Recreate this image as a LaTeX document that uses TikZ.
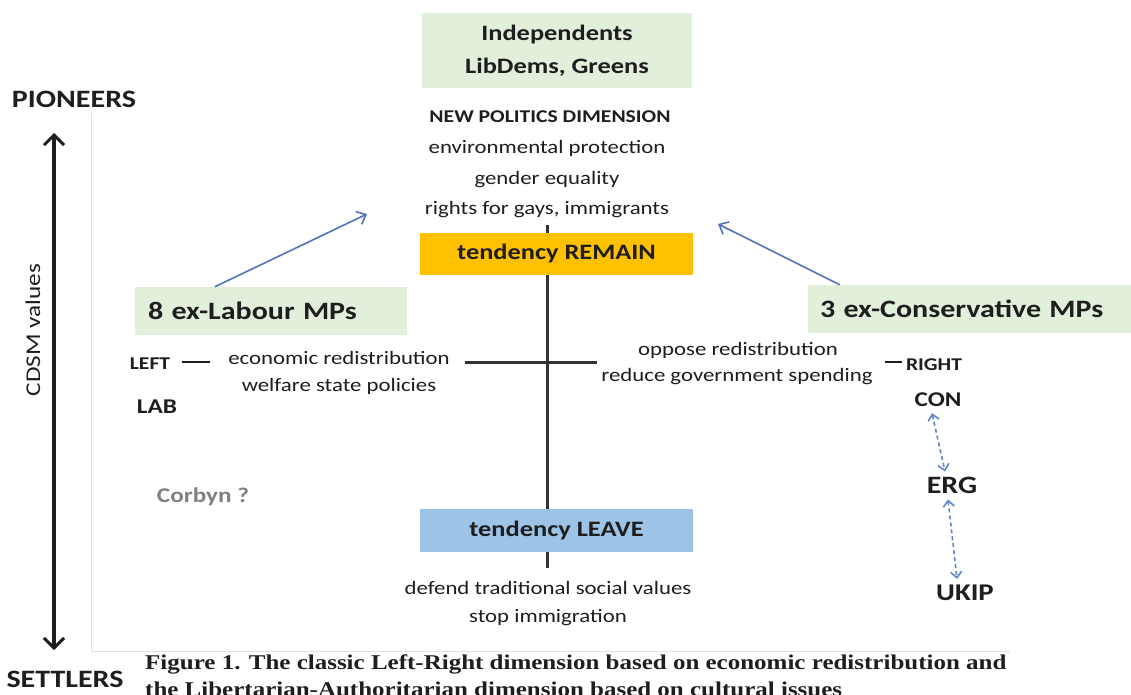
\documentclass[tikz,border=0pt]{standalone}
\usepackage{fontspec}
\setmainfont{Carlito}[FakeStretch=1.2]
\newfontfamily\capfont{Liberation Serif}[FakeStretch=1.19]
\usetikzlibrary{arrows.meta}
\definecolor{boxgreen}{RGB}{226,239,218}
\definecolor{boxorange}{RGB}{255,192,0}
\definecolor{boxblue}{RGB}{157,195,230}
\definecolor{textdark}{RGB}{30,30,30}
\definecolor{arrblue}{RGB}{80,115,185}
\definecolor{dashblue}{RGB}{95,135,200}
\definecolor{framegray}{RGB}{225,225,225}
\definecolor{corbgray}{RGB}{128,128,128}
\newcommand{\myfs}[1]{\fontsize{#1}{#1}\selectfont}
\begin{document}
\begin{tikzpicture}[x=1pt,y=-1pt,
  tx/.style={text=textdark, inner sep=0pt},
  bx/.style={text=textdark, inner sep=0pt, font=\bfseries\myfs{22}},
  axisline/.style={draw=black!80, line width=3pt},
  bluearrow/.style={draw=arrblue, line width=1.6pt, -{Straight Barb[length=8pt,width=14pt,line width=1.6pt]}},
  dasharrow/.style={draw=dashblue, line width=1.6pt, dashed, dash pattern=on 4pt off 3pt,
     {Straight Barb[length=6pt,width=11pt,line width=1.6pt]}-{Straight Barb[length=6pt,width=11pt,line width=1.6pt]}},
  dimarrow/.style={draw=textdark, line width=3.5pt,
     {Straight Barb[length=10pt,width=20pt,line width=3pt]}-{Straight Barb[length=10pt,width=20pt,line width=3pt]}}
]
\useasboundingbox (0,0) rectangle (1131,695);
\fill[white] (0,0) rectangle (1131,695);

% frame of the pasted picture
\draw[framegray, line width=1pt] (91,113) -- (91,651) -- (1010,651);

% left dimension axis
\node[tx, font=\bfseries\myfs{25}] (pion) at (74,99) {PIONEERS};
\node[tx, font=\bfseries\myfs{25}] (settl) at (65,679) {SETTLERS};
\coordinate (dtop) at (54,133);
\coordinate (dbot) at (54,650);
\draw[dimarrow] (dtop) -- (dbot);
\node[tx, font=\myfs{21}, rotate=90] (cdsm) at (33,330) {CDSM values};

% central axes
\coordinate (vtop) at (547,225);
\coordinate (vbot) at (547,568);
\coordinate (hl) at (465,362);
\coordinate (hr) at (597,362);
\draw[axisline] (vtop) -- (vbot);
\draw[axisline] (hl) -- (hr);

% top block
\node[bx, fill=boxgreen, minimum width=270pt, minimum height=75pt, align=center,
      font=\bfseries\fontsize{22}{33}\selectfont] (indep) at (557,50.5) {Independents\\LibDems, Greens};
\node[tx, font=\bfseries\myfs{18}] (npd) at (550,117) {NEW POLITICS DIMENSION};
\node[tx, font=\myfs{19}] (np1) at (547,148) {environmental protection};
\node[tx, font=\myfs{19}] (np2) at (547,180) {gender equality};
\node[tx, font=\myfs{19}] (np3) at (547,210) {rights for gays, immigrants};

\node[bx, fill=boxorange, minimum width=273pt, minimum height=42pt] (remain) at (556.5,254) {tendency REMAIN};
\node[bx, fill=boxblue, minimum width=273pt, minimum height=43pt] (leave) at (556.5,530.5) {tendency LEAVE};

\node[tx, font=\myfs{19}] (lv1) at (548,588) {defend traditional social values};
\node[tx, font=\myfs{19}] (lv2) at (548,618) {stop immigration};

% side groups
\node[fill=boxgreen, text=textdark, inner ysep=0pt, inner xsep=13pt, text width=246pt, align=left,
      minimum height=48pt, font=\bfseries\myfs{25}] (labour) at (271,311) {8 ex-Labour MPs};
\node[fill=boxgreen, text=textdark, inner ysep=0pt, inner xsep=12pt, text width=308pt, align=left,
      minimum height=48pt, font=\bfseries\myfs{25}] (cons) at (974,309) {3 ex-Conservative MPs};

\coordinate (a1e) at (367,214);
\coordinate (a2e) at (718,224);
\draw[bluearrow] ([xshift=80pt]labour.north west) -- (a1e);
\draw[bluearrow] ([xshift=32pt]cons.north west) -- (a2e);

% left-right dimension
\node[tx, font=\bfseries\myfs{18}] (left) at (150,364) {LEFT};
\coordinate (ld1) at (182,362);
\coordinate (ld2) at (210,362);
\draw[draw=textdark, line width=2pt] (ld1) -- (ld2);
\node[tx, font=\myfs{19}] (ec1) at (339,358) {economic redistribution};
\node[tx, font=\myfs{19}] (ec2) at (339,386) {welfare state policies};
\node[tx, font=\bfseries\myfs{21}] (lab) at (157,407) {LAB};

\node[tx, font=\myfs{19}] (op1) at (738,350) {oppose redistribution};
\node[tx, font=\myfs{19}] (op2) at (737,377) {reduce government spending};
\coordinate (rd1) at (885,362);
\coordinate (rd2) at (902,362);
\draw[draw=textdark, line width=2pt] (rd1) -- (rd2);
\node[tx, font=\bfseries\myfs{18}] (right) at (934,365) {RIGHT};
\node[tx, font=\bfseries\myfs{21}] (con) at (938,400) {CON};
\node[tx, font=\bfseries\myfs{25}] (erg) at (952,485) {ERG};
\node[tx, font=\bfseries\myfs{24}] (ukip) at (965,593) {UKIP};
\draw[dasharrow] ([xshift=-6pt,yshift=-6pt]con.south) -- ([xshift=-7pt,yshift=5pt]erg.north);
\draw[dasharrow] ([xshift=-4pt,yshift=-6pt]erg.south) -- ([xshift=-8pt,yshift=6pt]ukip.north);

\node[inner sep=0pt, text=corbgray, font=\bfseries\myfs{21}] (corbyn) at (203,497) {Corbyn ?};

% caption
\node[anchor=west, inner sep=0pt, text=textdark, font=\capfont\bfseries\myfs{21}] (cap1) at (145,664)
  {Figure 1. The classic Left-Right dimension based on economic redistribution and};
\node[anchor=west, inner sep=0pt, text=textdark, font=\capfont\bfseries\myfs{21}] (cap2) at (145,689)
  {the Libertarian-Authoritarian dimension based on cultural issues};
\end{tikzpicture}
\end{document}
